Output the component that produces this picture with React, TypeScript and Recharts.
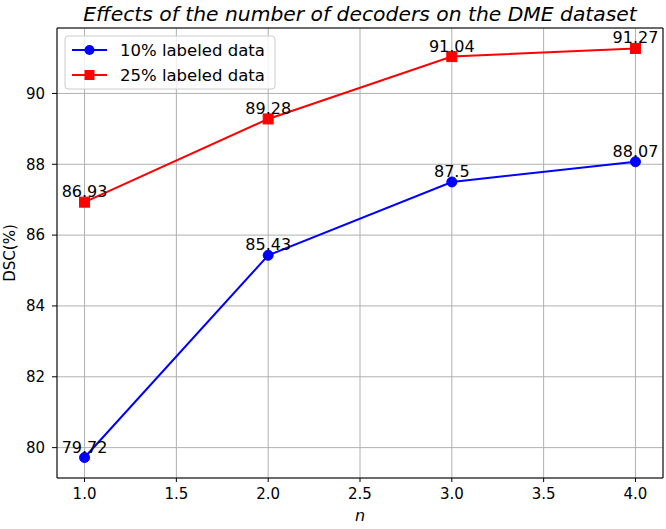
import React from 'react';
import { LineChart, Line, XAxis, YAxis, CartesianGrid, ReferenceArea, LabelList } from 'recharts';

const nValues = [1, 2, 3, 4];
const series10 = [79.72, 85.43, 87.5, 88.07];
const series25 = [86.93, 89.28, 91.04, 91.27];
const xTicks = [1.0, 1.5, 2.0, 2.5, 3.0, 3.5, 4.0];
const yTicks = [80, 82, 84, 86, 88, 90];
const seriesNames = ['10% labeled data', '25% labeled data'];
const titleText = 'Effects of the number of decoders on the DME dataset';

const data = nValues.map((n, i) => ({ n, low: series10[i], high: series25[i] }));

const X_DOMAIN: [number, number] = [0.85, 4.15];
const Y_DOMAIN: [number, number] = [79.1425, 91.8475];
const FONT = '"DejaVu Sans", sans-serif';

const Square = (props: any) => {
  const { cx, cy } = props;
  if (cx == null || cy == null) return null;
  return <rect x={cx - 5} y={cy - 5} width={10} height={10} fill="#ff0000" stroke="#ff0000" />;
};

const Circle = (props: any) => {
  const { cx, cy } = props;
  if (cx == null || cy == null) return null;
  return <circle cx={cx} cy={cy} r={5} fill="#0000ff" stroke="#0000ff" />;
};

const ValueLabel = (props: any) => {
  const { x, y, value } = props;
  return (
    <text x={x} y={y - 5} textAnchor="middle" fontSize={16} fontFamily={FONT} fill="#000">
      {String(value)}
    </text>
  );
};

export default function App() {
  return (
    <div style={{ position: 'absolute', left: 0, top: 0, width: 666, height: 529, background: '#fff' }}>
      <LineChart
        width={666}
        height={529}
        data={data}
        margin={{ top: 28, right: 3, bottom: 0, left: 0 }}
      >
        <CartesianGrid stroke="#b0b0b0" strokeWidth={1} />
        <XAxis
          type="number"
          dataKey="n"
          domain={X_DOMAIN}
          ticks={xTicks}
          allowDataOverflow
          height={51}
          axisLine={false}
          tickLine={{ stroke: '#000' }}
          tickSize={4}
          tickMargin={6}
          tickFormatter={(v: number) => v.toFixed(1)}
          tick={{ fill: '#000', fontSize: 15, fontFamily: FONT }}
        />
        <YAxis
          type="number"
          domain={Y_DOMAIN}
          ticks={yTicks}
          allowDataOverflow
          width={57}
          axisLine={false}
          tickLine={{ stroke: '#000' }}
          tickSize={5}
          tickMargin={7}
          tick={{ fill: '#000', fontSize: 15, fontFamily: FONT }}
        />
        <ReferenceArea
          x1={X_DOMAIN[0]}
          x2={X_DOMAIN[1]}
          y1={Y_DOMAIN[0]}
          y2={Y_DOMAIN[1]}
          fill="none"
          fillOpacity={0}
          stroke="#000"
          strokeWidth={1}
          ifOverflow="visible"
        />
        <Line
          type="linear"
          dataKey="low"
          stroke="#0000ff"
          strokeWidth={2}
          dot={<Circle />}
          activeDot={false}
          isAnimationActive={false}
        >
          <LabelList dataKey="low" content={<ValueLabel />} />
        </Line>
        <Line
          type="linear"
          dataKey="high"
          stroke="#ff0000"
          strokeWidth={2}
          dot={<Square />}
          activeDot={false}
          isAnimationActive={false}
        >
          <LabelList dataKey="high" content={<ValueLabel />} />
        </Line>
      </LineChart>
      <svg
        width={666}
        height={529}
        style={{ position: 'absolute', left: 0, top: 0, pointerEvents: 'none' }}
      >
        <text x={360} y={21} textAnchor="middle" fontSize={20.3} fontStyle="italic" fontFamily={FONT} fill="#000">
          {titleText}
        </text>
        <text x={360} y={521} textAnchor="middle" fontSize={16} fontStyle="italic" fontFamily={FONT} fill="#000">
          n
        </text>
        <text
          x={10}
          y={253}
          transform="rotate(-90 10 253)"
          textAnchor="middle"
          dominantBaseline="central"
          fontSize={15}
          fontFamily={FONT}
          fill="#000"
        >
          DSC(%)
        </text>
        <rect x={65} y={36} width={210} height={53} rx={3} fill="#fff" fillOpacity={0.8} stroke="#cccccc" />
        <line x1={72} y1={50} x2={107} y2={50} stroke="#0000ff" strokeWidth={2} />
        <circle cx={89.5} cy={50} r={5} fill="#0000ff" />
        <text x={120} y={50} dominantBaseline="central" fontSize={16.5} fontFamily={FONT} fill="#000">
          {seriesNames[0]}
        </text>
        <line x1={72} y1={75} x2={107} y2={75} stroke="#ff0000" strokeWidth={2} />
        <rect x={84.5} y={70} width={10} height={10} fill="#ff0000" />
        <text x={120} y={75} dominantBaseline="central" fontSize={16.5} fontFamily={FONT} fill="#000">
          {seriesNames[1]}
        </text>
      </svg>
    </div>
  );
}
